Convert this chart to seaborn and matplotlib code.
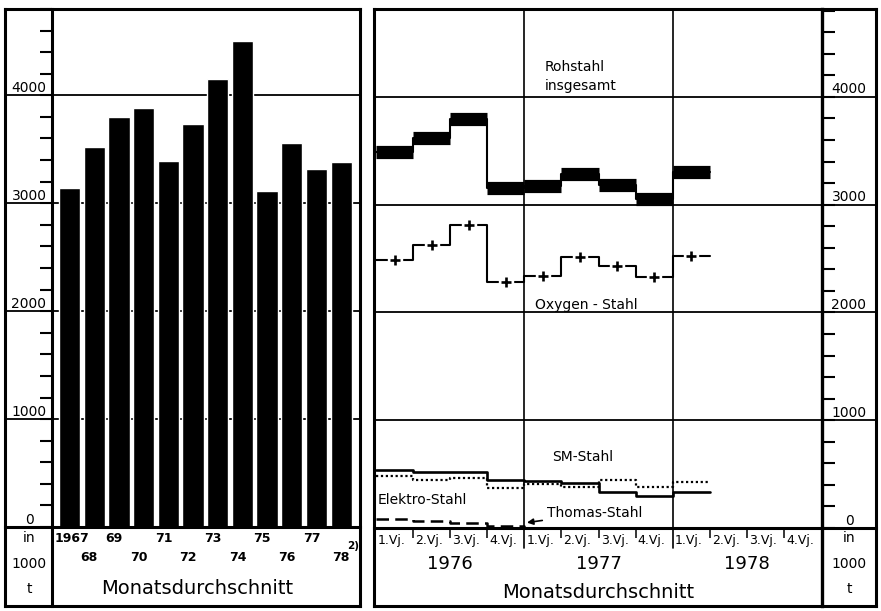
import numpy as np
import pandas as pd
import matplotlib
matplotlib.use("Agg")
import matplotlib.pyplot as plt
import seaborn as sns
from matplotlib.lines import Line2D

# ---------------- data ----------------
years = ['1967', '68', '69', '70', '71', '72', '73', '74', '75', '76', '77', '78']
rohstahl_annual = [3141, 3520, 3797, 3880, 3390, 3732, 4148, 4508, 3113, 3557, 3316, 3381]

quarter_names = ['1.Vj.', '2.Vj.', '3.Vj.', '4.Vj.']
quarter_years = ['1976', '1977', '1978']
rohstahl_q = [3490, 3619, 3796, 3155, 3174, 3285, 3183, 3053, 3304]
oxygen_q = [2487, 2626, 2812, 2283, 2339, 2515, 2432, 2329, 2524]
sm_q = [538, 520, 520, 445, 436, 418, 337, 300, 337]
elektro_q = [485, 445, 467, 368, 406, 378, 445, 378, 430]
thomas_q = [81, 68, 49, 21, 0]
major_ticks = [0, 1000, 2000, 3000, 4000]
unit_lines = ['in', '1000', 't']
xlabel = 'Monatsdurchschnitt'

# ---------------- figure ----------------
W, H = 881, 611
sns.set_theme(style='white')
plt.rcParams['font.family'] = ['DejaVu Sans']
plt.rcParams['text.color'] = 'black'
fig = plt.figure(figsize=(W / 100, H / 100), dpi=100, facecolor='white')


def fx(px):
    return px / W


def fy(py):
    return 1 - py / H


def fline(x0, y0, x1, y1, lw=2.2):
    fig.add_artist(Line2D([fx(x0), fx(x1)], [fy(y0), fy(y1)], transform=fig.transFigure,
                          color='black', lw=lw, solid_capstyle='projecting'))


# ===== left panel: annual bars =====
L0, L1, LT, LB = 52, 358, 9, 527
ax1 = fig.add_axes([fx(L0), fy(LB), fx(L1) - fx(L0), fy(LT) - fy(LB)])
df_a = pd.DataFrame({'Jahr': years, 'Rohstahl': rohstahl_annual})
sns.barplot(data=df_a, x='Jahr', y='Rohstahl', order=years, color='black', saturation=1,
            width=0.86, ax=ax1, zorder=3)
ax1.set_xlim(-0.71, 11.68)
ax1.set_ylim(0, 4785)
for s in ax1.spines.values():
    s.set_visible(False)
ax1.set_xlabel('')
ax1.set_ylabel('')
ax1.set_xticks([])
ax1.set_yticks(np.arange(0, 4801, 200))
ax1.tick_params(axis='y', left=True, direction='out', length=9, width=1.5, color='black',
                labelleft=False)
ax1.set_facecolor('white')

tr1 = ax1.get_yaxis_transform()
wl = L1 - L0
for v in major_ticks[1:]:
    ax1.plot([(5 - L0) / wl, (360 - L0) / wl], [v, v], transform=tr1, clip_on=False,
             color='black', lw=1.3, zorder=1)
for v in major_ticks:
    ax1.annotate(str(v), xy=((29 - L0) / wl, v), xycoords=tr1, xytext=(0, 2.5),
                 textcoords='offset points', ha='center', va='baseline', fontsize=10)

for i, lab in enumerate(years):
    dx = 0.1 if i == 0 else (0.0 if i == len(years) - 1 else -0.2)
    off = -8 if i % 2 == 0 else -22
    ax1.annotate(lab, xy=(i + dx, 0), xycoords='data', xytext=(0, off),
                 textcoords='offset points', ha='center', va='center', fontsize=9,
                 fontweight='bold', annotation_clip=False)
ax1.annotate('2)', xy=(11.48, 0), xycoords='data', xytext=(0, -14), textcoords='offset points',
             ha='center', va='center', fontsize=7.5, fontweight='bold', annotation_clip=False)
fig.text(fx(197), fy(589), xlabel, ha='center', va='center', fontsize=14)
for lab, py in zip(unit_lines, [538, 564, 589]):
    fig.text(fx(29), fy(py), lab, ha='center', va='center', fontsize=10)

# frame of left panel
fline(5, 9, 360, 9)
fline(5, 606, 360, 606)
fline(5, 9, 5, 606)
fline(360, 9, 360, 606)
fline(L0, 9, L0, 606)
fline(5, LB, 360, LB)

# ===== right panel: quarterly steel types =====
R0, R1, RT, RB = 376, 821, 9, 528
ax2 = fig.add_axes([fx(R0), fy(RB), fx(R1) - fx(R0), fy(RT) - fy(RB)])
ax2.set_facecolor('white')
nq = len(quarter_names) * len(quarter_years)
ax2.set_xlim(0, nq)
ax2.set_ylim(0, 4815)
for s in ax2.spines.values():
    s.set_visible(False)

tr2y = ax2.get_yaxis_transform()
tr2x = ax2.get_xaxis_transform()
wr = R1 - R0
for v in major_ticks[1:]:
    ax2.plot([(374 - R0) / wr, (876 - R0) / wr], [v, v], transform=tr2y, clip_on=False,
             color='black', lw=1.3, zorder=1)
for v in major_ticks:
    ax2.annotate(str(v), xy=((849 - R0) / wr, v), xycoords=tr2y, xytext=(0, 2.5),
                 textcoords='offset points', ha='center', va='baseline', fontsize=10)

# year separators
for k in range(1, len(quarter_years)):
    xk = k * len(quarter_names)
    ax2.plot([xk, xk], [(RB - 548) / (RB - RT), 1], transform=tr2x, clip_on=False,
             color='black', lw=1.2, zorder=1)

ax2.yaxis.tick_right()
ax2.set_yticks(np.arange(0, 4801, 200))
ax2.tick_params(axis='y', right=True, left=False, direction='out', length=10, width=1.5,
                color='black', labelright=False)
ax2.set_xticks(np.arange(0, nq + 1, 4))
ax2.set_xticks(np.arange(nq + 1), minor=True)
ax2.tick_params(axis='x', which='major', bottom=True, direction='out', length=0, labelbottom=False)
ax2.tick_params(axis='x', which='minor', bottom=True, direction='out', length=7, width=1.1,
                color='black', labelbottom=False)


def step_df(vals):
    x = np.arange(len(vals) + 1)
    y = np.append(vals, vals[-1])
    return pd.DataFrame({'q': x, 'v': y})


# Rohstahl insgesamt: thin step + thick bands
d = step_df(rohstahl_q)
sns.lineplot(data=d, x='q', y='v', drawstyle='steps-post', color='black', lw=1.5,
             estimator=None, ax=ax2, zorder=4)
qi = np.arange(len(rohstahl_q))
ax2.hlines(rohstahl_q, qi, qi + 1, colors='black', lw=9.5, capstyle='butt', zorder=5)

# Oxygen-Stahl
d = step_df(oxygen_q)
sns.lineplot(data=d, x='q', y='v', drawstyle='steps-post', color='black', lw=1.5,
             estimator=None, ax=ax2, zorder=4)
qo = np.arange(len(oxygen_q)) + 0.5
ax2.plot(qo, oxygen_q, ls='none', marker='s', ms=9.5, mfc='white', mec='white', zorder=5)
ax2.plot(qo, oxygen_q, ls='none', marker='+', ms=7.5, mew=1.9, color='black', zorder=6)

# SM-Stahl
d = step_df(sm_q)
sns.lineplot(data=d, x='q', y='v', drawstyle='steps-post', color='black', lw=1.9,
             estimator=None, ax=ax2, zorder=4)
# Elektro-Stahl
d = step_df(elektro_q)
sns.lineplot(data=d, x='q', y='v', drawstyle='steps-post', color='black', lw=1.6,
             linestyle=(0, (1, 1.2)), estimator=None, ax=ax2, zorder=4)
# Thomas-Stahl
dt = pd.DataFrame({'q': np.arange(len(thomas_q)), 'v': thomas_q})
sns.lineplot(data=dt, x='q', y='v', drawstyle='steps-post', color='black', lw=1.8,
             linestyle=(0, (5, 2.5)), estimator=None, ax=ax2, zorder=4)

ax2.set_xlabel('')
ax2.set_ylabel('')
if ax2.get_legend():
    ax2.get_legend().remove()

# series labels
ax2.text(4.56, 4345, 'Rohstahl\ninsgesamt', ha='left', va='top', fontsize=10, linespacing=1.45)
ax2.text(4.29, 2070, 'Oxygen - Stahl', ha='left', va='center', fontsize=10)
ax2.text(4.75, 659, 'SM-Stahl', ha='left', va='center', fontsize=10)
ax2.text(0.05, 260, 'Elektro-Stahl', ha='left', va='center', fontsize=10)
ax2.annotate('Thomas-Stahl', xy=(4.07, 50), xytext=(4.61, 139), ha='left', va='center',
             fontsize=10,
             arrowprops=dict(arrowstyle='-|>', color='black', lw=1.2, shrinkA=1, shrinkB=0,
                             mutation_scale=9))

# quarter and year labels
for k in range(nq):
    ax2.annotate(quarter_names[k % 4], xy=(k, 0), xycoords='data', xytext=(1.5, -9),
                 textcoords='offset points', ha='left', va='center', fontsize=9,
                 annotation_clip=False)
for j, yl in enumerate(quarter_years):
    ax2.annotate(yl, xy=(j * 4 + 2, 0), xycoords='data', xytext=(0, -26),
                 textcoords='offset points', ha='center', va='center', fontsize=13,
                 annotation_clip=False)
ax2.annotate(xlabel, xy=(nq / 2, 0), xycoords='data', xytext=(0, -46.5),
             textcoords='offset points', ha='center', va='center', fontsize=14,
             annotation_clip=False)
for lab, py in zip(unit_lines, [538, 564, 589]):
    fig.text(fx(849), fy(py), lab, ha='center', va='center', fontsize=10)

# frame of right panel
fline(374, 9, 876, 9)
fline(374, 606, 876, 606)
fline(374, 9, 374, 606)
fline(876, 9, 876, 606)
fline(822, 9, 822, 606, lw=2.4)
fline(374, RB, 876, RB)

fig.savefig('out.png', dpi=100, facecolor='white')
